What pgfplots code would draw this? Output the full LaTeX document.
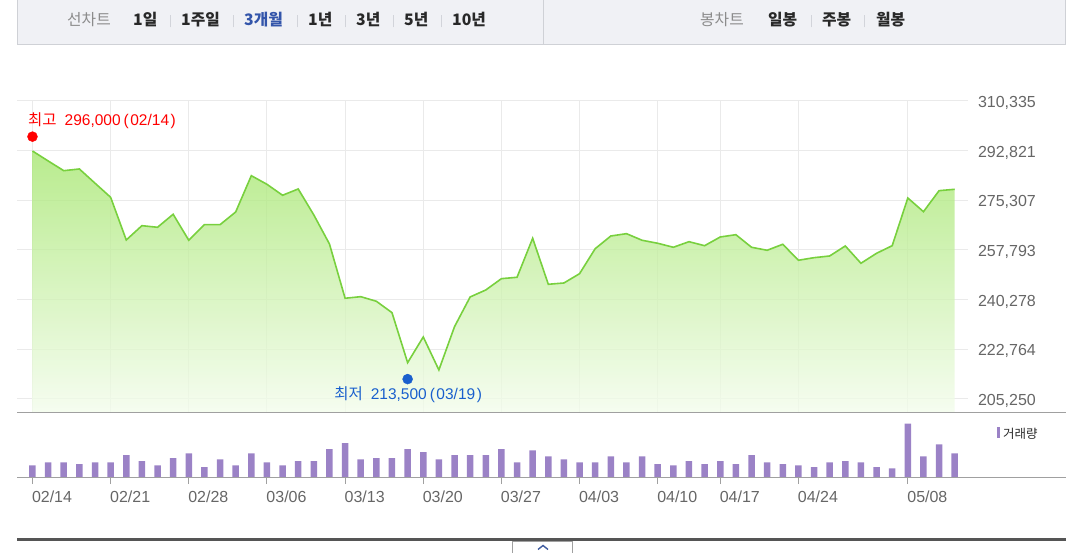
\documentclass[border=0pt]{standalone}
\usepackage{pgfplots}
\pgfplotsset{compat=1.18}
\usepackage{pgfplotstable}
\usepackage{fontspec}
\setmainfont{Liberation Sans}
\newfontfamily\kr{Noto Sans CJK KR}

\definecolor{linegreen}{RGB}{120,208,62}
\definecolor{filltopc}{RGB}{165,230,110}
\definecolor{fillbotc}{RGB}{243,252,236}
\definecolor{gridc}{RGB}{234,234,234}
\definecolor{volc}{RGB}{155,130,198}
\definecolor{txtgray}{RGB}{102,102,102}
\definecolor{hired}{RGB}{255,0,0}
\definecolor{loblue}{RGB}{25,95,205}
\definecolor{barbg}{RGB}{240,241,245}
\definecolor{barline}{RGB}{207,209,214}
\definecolor{navblue}{RGB}{51,85,170}
\definecolor{navgray}{RGB}{140,140,140}
\definecolor{navdark}{RGB}{40,40,40}
\definecolor{sepc}{RGB}{210,212,218}
\definecolor{panelline}{RGB}{160,160,160}
\definecolor{bottomline}{RGB}{85,85,85}

\pgfplotstableread{
i p
0 292700
1 289200
2 285760
3 286360
4 281350
5 276380
6 261320
7 266370
8 265800
9 270390
10 261220
11 266720
12 266720
13 271200
14 284000
15 280960
16 277090
17 279310
18 270140
19 259910
20 240770
21 241330
22 239710
23 235690
24 218060
25 227120
26 215490
27 230750
28 241230
29 243690
30 247680
31 248170
32 261920
33 245700
34 246160
35 249440
36 258260
37 262730
38 263550
39 261220
40 260160
41 258750
42 260720
43 259310
44 262380
45 263190
46 258750
47 257690
48 259810
49 254170
50 255080
51 255680
52 259210
53 253110
54 256630
55 259310
56 276130
57 271300
58 278710
59 279200
}\price

\pgfplotstableread{
i v
0 37
1 46
2 46
3 41
4 46
5 46
6 68
7 50
8 37
9 59
10 73
11 32
12 55
13 37
14 73
15 46
16 37
17 50
18 50
19 86
20 104
21 55
22 59
23 59
24 86
25 77
26 55
27 68
28 68
29 68
30 86
31 46
32 82
33 64
34 55
35 46
36 46
37 64
38 46
39 64
40 41
41 37
42 50
43 41
44 50
45 41
46 68
47 46
48 41
49 37
50 32
51 46
52 50
53 46
54 32
55 28
56 162
57 64
58 100
59 73
}\vol

\newcommand{\topfont}{\kr\fontsize{15.8}{16}\selectfont}
\newcommand{\numfont}{\fontsize{16}{16}\selectfont}

\begin{document}
\begin{tikzpicture}[x=1pt,y=1pt]
\useasboundingbox (0,0) rectangle (1066,553);
% top navigation bar
\fill[barbg] (17,508) rectangle (1066,554);
\draw[barline, line width=1pt] (17.5,554) -- (17.5,508.5) -- (1065.5,508.5) -- (1065.5,554);
\draw[barline, line width=1pt] (543,508.5) -- (543,554);
\node[anchor=base west, inner sep=0, text=navgray, font=\topfont] at (67,527) {선차트};
\node[anchor=base west, inner sep=0, text=navdark, font=\topfont\bfseries] at (133,527) {1일};
\node[anchor=base west, inner sep=0, text=navdark, font=\topfont\bfseries] at (181,527) {1주일};
\node[anchor=base west, inner sep=0, text=navblue, font=\topfont\bfseries] at (244,527) {3개월};
\node[anchor=base west, inner sep=0, text=navdark, font=\topfont\bfseries] at (308,527) {1년};
\node[anchor=base west, inner sep=0, text=navdark, font=\topfont\bfseries] at (356,527) {3년};
\node[anchor=base west, inner sep=0, text=navdark, font=\topfont\bfseries] at (404,527) {5년};
\node[anchor=base west, inner sep=0, text=navdark, font=\topfont\bfseries] at (452,527) {10년};
\node[anchor=base west, inner sep=0, text=navgray, font=\topfont] at (700,527) {봉차트};
\node[anchor=base west, inner sep=0, text=navdark, font=\topfont\bfseries] at (768,527) {일봉};
\node[anchor=base west, inner sep=0, text=navdark, font=\topfont\bfseries] at (822,527) {주봉};
\node[anchor=base west, inner sep=0, text=navdark, font=\topfont\bfseries] at (876,527) {월봉};
\foreach \sx in {170,233,297,345,393,441,811,864}
  \draw[sepc, line width=0.8pt] (\sx,525.5) -- (\sx,537.5);

% price panel
\begin{axis}[
  at={(17pt,140pt)}, anchor=south west,
  scale only axis, width=951pt, height=312pt,
  xmin=-0.99, xmax=59.85, ymin=200311, ymax=310335,
  axis line style={draw=none},
  major tick length=0pt,
  scaled y ticks=false,
  xtick={0,5,10,15,20,25,30,35,40,44,49,56}, xticklabels={},
  ytick={205250,222764,240278,257793,275307,292821,310335},
  yticklabels={{205,250},{222,764},{240,278},{257,793},{275,307},{292,821},{310,335}},
  yticklabel pos=right,
  yticklabel style={anchor=west, xshift=6.5pt, yshift=-1.8pt, font=\numfont, text=txtgray},
  grid=major, major grid style={gridc, line width=1pt},
  clip=false,
]
\addplot[draw=none, forget plot, fill opacity=0.78, top color=filltopc, bottom color=fillbotc, mark=none]
  table[x=i,y=p]{\price} -- (axis cs:59,200311) -- (axis cs:0,200311) -- cycle;
\addplot[linegreen, line width=1.6pt, mark=none] table[x=i,y=p]{\price};
\addplot[hired, only marks, mark=*, mark size=5pt, mark options={draw=hired, fill=hired, yshift=5pt}] coordinates {(0,296000)};
\addplot[loblue, only marks, mark=*, mark size=5pt, mark options={draw=loblue, fill=loblue, yshift=-3.5pt}] coordinates {(24,213500)};
\node[anchor=west, inner sep=0, text=hired, font=\fontsize{15.5}{16}\selectfont, xshift=-4.5pt, yshift=20.5pt] at (axis cs:0,296000)
  {{\kr 최고}\hspace{8pt}296,000\hspace{3pt}(\hspace{1.5pt}02/14\hspace{1.5pt})};
\node[anchor=center, inner sep=0, text=loblue, font=\fontsize{15.5}{16}\selectfont, xshift=0.5pt, yshift=-19.5pt] at (axis cs:24,213500)
  {{\kr 최저}\hspace{8pt}213,500\hspace{3pt}(\hspace{1.5pt}03/19\hspace{1.5pt})};
\end{axis}

% volume panel
\begin{axis}[
  at={(17pt,75.3pt)}, anchor=south west,
  scale only axis, width=951pt, height=64.7pt,
  xmin=-0.99, xmax=59.85, ymin=0, ymax=194,
  axis line style={draw=none},
  ybar, bar width=6.5pt,
  ytick=\empty,
  xtick={0,5,10,15,20,25,30,35,40,44,49,56},
  xticklabels={02/14,02/21,02/28,03/06,03/13,03/20,03/27,04/03,04/10,04/17,04/24,05/08},
  xtick pos=bottom, tick align=outside, major tick length=6.5pt,
  tick style={panelline, line width=1pt},
  xticklabel style={anchor=north west, xshift=-4pt, yshift=-3.5pt, font=\numfont, text=txtgray},
  clip=false,
]
\addplot[fill=volc, draw=none] table[x=i,y=v]{\vol};
\end{axis}

% panel lines
\draw[panelline, line width=1pt] (17,140) -- (1066,140);
\draw[panelline, line width=1pt] (17,75.3) -- (1066,75.3);
% legend
\fill[volc] (996.7,114.7) rectangle (1000.3,126.3);
\node[anchor=west, inner sep=0, text=navdark, font=\kr\fontsize{12.5}{13}\selectfont] at (1003,119.5) {거래량};
% bottom
\draw[bottomline, line width=3pt] (17,13) -- (1066,13);
\draw[panelline, line width=0.8pt, fill=white] (512.5,-1) -- (512.5,11.5) -- (572.5,11.5) -- (572.5,-1);
\draw[navblue!80!gray, line width=1.4pt] (538,3.5) -- (543,7.5) -- (548,3.5);
\end{tikzpicture}
\end{document}
